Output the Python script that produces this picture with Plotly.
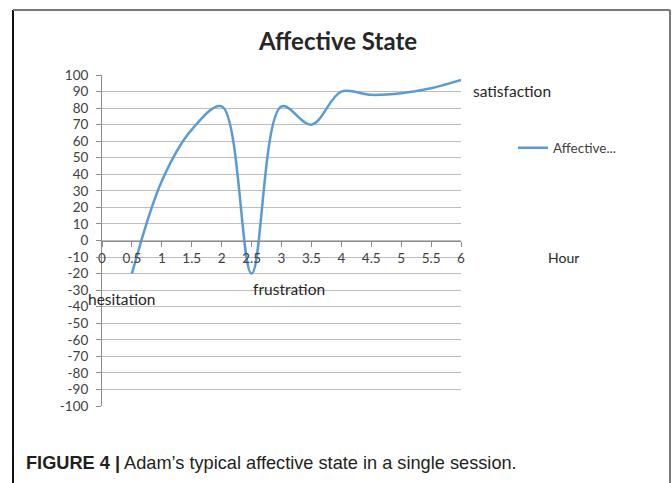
import plotly.graph_objects as go

# Session timeline (hours) and affective state score
hours = [0.5, 1, 1.5, 2, 2.5, 3, 3.5, 4, 4.5, 5, 5.5, 6]
affect = [-20, 36, 67, 81, -20, 81, 70, 90, 88, 89, 92, 97]
series_name = "Affective..."

x_ticks = [0, 0.5, 1, 1.5, 2, 2.5, 3, 3.5, 4, 4.5, 5, 5.5, 6]
x_tick_text = ["0", "0.5", "1", "1.5", "2", "2.5", "3", "3.5", "4", "4.5", "5", "5.5", "6"]
y_ticks = list(range(-100, 101, 10))
y_tick_text = [str(v) for v in y_ticks]  # plain hyphen for negatives

# Labelled moments on the curve: (hour, score, text)
moments = [
    (0.5, -20, "hesitation"),
    (2.5, -20, "frustration"),
    (6, 97, "satisfaction"),
]

W, H = 672, 483
FONT = "Lato, Carlito, 'Open Sans', sans-serif"
TXT = "#404040"
GRID = "#bdbdbd"
AXIS = "#8c8c8c"

x_dom = [102 / W, 461 / W]
y_dom = [1 - 406 / H, 1 - 75 / H]

fig = go.Figure()
fig.add_trace(go.Scatter(
    x=hours, y=affect, name=series_name, mode="lines",
    line=dict(color="#5b9bd5", width=2.5, shape="spline", smoothing=1.0),
    showlegend=True,
))

fig.update_layout(
    width=W, height=H,
    margin=dict(l=0, r=0, t=0, b=0, autoexpand=False),
    paper_bgcolor="white", plot_bgcolor="white",
    font=dict(family=FONT, size=13, color=TXT),
    title=dict(
        text="<b>Affective State</b>",
        x=338 / W, xanchor="center", y=1 - 42 / H, yanchor="middle",
        font=dict(family=FONT, size=24, color="#262626"),
    ),
    xaxis=dict(
        domain=x_dom, range=[0, 6], anchor="free",
        position=(y_dom[0] + y_dom[1]) / 2,
        tickmode="array", tickvals=x_ticks, ticktext=x_tick_text,
        ticks="outside", ticklen=5, tickcolor=AXIS, tickwidth=1,
        showline=True, linecolor=AXIS, linewidth=1,
        showgrid=False, zeroline=False, automargin=False,
        tickfont=dict(family=FONT, size=13.5, color=TXT),
    ),
    yaxis=dict(
        domain=y_dom, range=[-100, 100],
        tickmode="array", tickvals=y_ticks, ticktext=y_tick_text,
        ticks="outside", ticklen=5, tickcolor=AXIS, tickwidth=1,
        ticklabelstandoff=5,
        showline=True, linecolor=AXIS, linewidth=1,
        showgrid=True, gridcolor=GRID, gridwidth=1,
        zeroline=False, automargin=False,
        tickfont=dict(family=FONT, size=13.5, color=TXT),
    ),
    legend=dict(
        x=513 / W, y=1 - 148 / H, xanchor="left", yanchor="middle",
        bgcolor="rgba(0,0,0,0)",
        font=dict(family=FONT, size=13.5, color=TXT),
    ),
)

# Labels attached to the highlighted points
offsets = {
    "hesitation": dict(xanchor="center", yanchor="middle", xshift=-10, yshift=-25),
    "frustration": dict(xanchor="left", yanchor="middle", xshift=-1, yshift=-15),
    "satisfaction": dict(xanchor="left", yanchor="middle", xshift=10, yshift=-11),
}
for hx, hy, label in moments:
    fig.add_annotation(x=hx, y=hy, xref="x", yref="y", text=label, showarrow=False,
                       font=dict(family=FONT, size=15.5, color="#262626"), **offsets[label])

# Horizontal axis title
fig.add_annotation(x=563 / W, y=1 - 257 / H, xref="paper", yref="paper", text="Hour",
                   showarrow=False, xanchor="center", yanchor="middle",
                   font=dict(family=FONT, size=14, color="#262626"))

# Figure caption
fig.add_annotation(
    x=24 / W, y=1 - 463 / H, xref="paper", yref="paper", showarrow=False,
    xanchor="left", yanchor="middle",
    text="<b>FIGURE 4 |</b> Adam’s typical affective state in a single session.",
    font=dict(family="'Liberation Sans Narrow', 'Liberation Sans', Arial, sans-serif",
              size=18.2, color="#231f20"),
)

# Frame around chart and caption
fig.add_shape(type="line", xref="paper", yref="paper", x0=13 / W, x1=13 / W,
              y0=1 - 10 / H, y1=-0.1, line=dict(color="#111111", width=2))
fig.add_shape(type="line", xref="paper", yref="paper", x0=13 / W, x1=670 / W,
              y0=1 - 10 / H, y1=1 - 10 / H, line=dict(color="#7a7a7a", width=2))
fig.add_shape(type="line", xref="paper", yref="paper", x0=670 / W, x1=670 / W,
              y0=1 - 10 / H, y1=-0.1, line=dict(color="#7a7a7a", width=2))

fig.write_html("out.html")
